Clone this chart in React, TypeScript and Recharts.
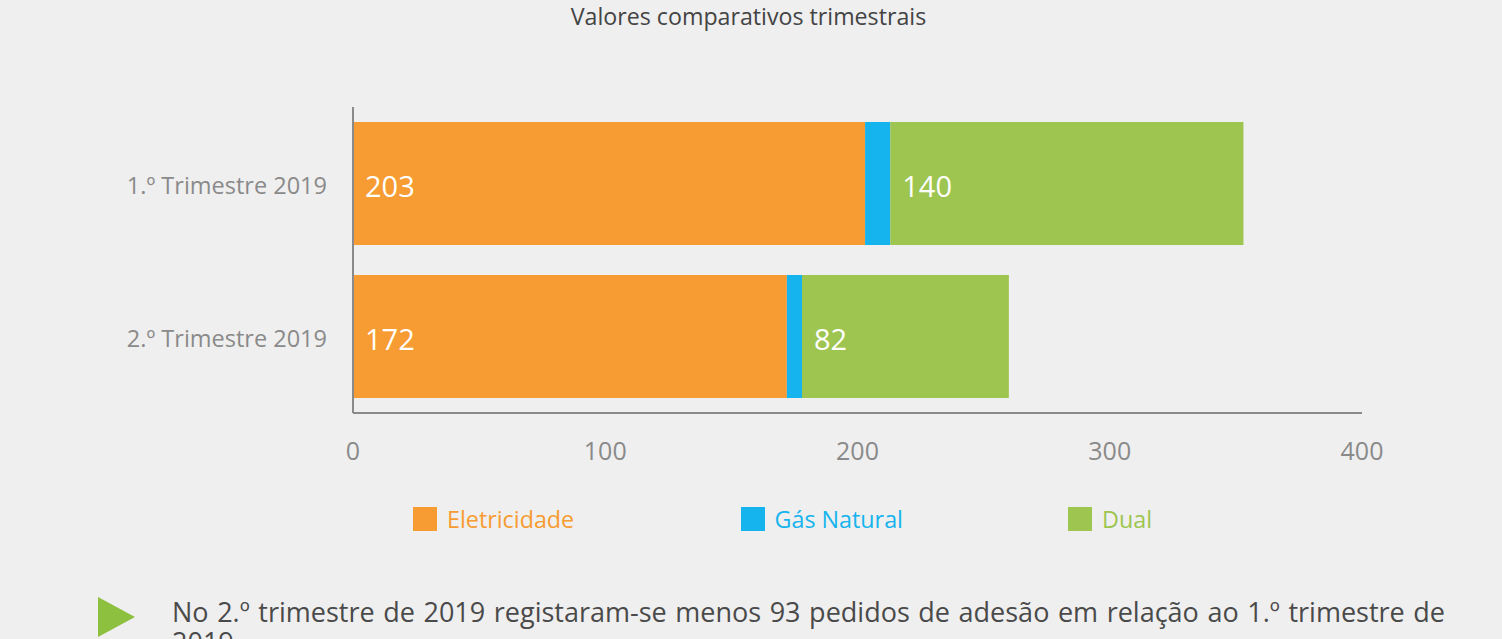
import React from "react";
import { BarChart, Bar, XAxis, YAxis, LabelList } from "recharts";

const categories = ["1.º Trimestre 2019", "2.º Trimestre 2019"];
const eletricidade = [203, 172];
const gasNatural = [10, 6];
const dual = [140, 82];
const xTicks = [0, 100, 200, 300, 400];

const seriesNames = ["Eletricidade", "Gás Natural", "Dual"];
const seriesKeys = ["eletricidade", "gas", "dual"];
const colors = ["#F79C32", "#16B4EE", "#9DC54F"];

const data = categories.map((c, i) => ({
  name: c,
  eletricidade: eletricidade[i],
  gas: gasNatural[i],
  dual: dual[i],
}));

const FONT = "'Open Sans', 'Noto Sans', sans-serif";

export default function App() {
  return (
    <div
      style={{
        position: "absolute",
        left: 0,
        top: 0,
        width: 1502,
        height: 639,
        background: "#EFEFEF",
        overflow: "hidden",
        fontFamily: FONT,
      }}
    >
      <div
        style={{
          position: "absolute",
          left: 0,
          top: 1,
          width: 1497,
          textAlign: "center",
          fontSize: 23.2,
          lineHeight: "30px",
          color: "#444",
        }}
      >
        Valores comparativos trimestrais
      </div>
      <div style={{ position: "absolute", left: 0, top: 0 }}>
        <BarChart
          width={1502}
          height={639}
          data={data}
          layout="vertical"
          margin={{ top: 107, right: 140, bottom: 166, left: 153 }}
          barSize={123}
        >
          <XAxis
            type="number"
            domain={[0, 400]}
            ticks={xTicks}
            tickLine={false}
            tickSize={0}
            tickMargin={29}
            height={60}
            axisLine={{ stroke: "#8a8a8a", strokeWidth: 2 }}
            tick={{ fill: "#8a8a8a", fontSize: 25, fontFamily: FONT }}
          />
          <YAxis
            type="category"
            dataKey="name"
            width={200}
            tickLine={false}
            tickSize={0}
            tickMargin={26}
            axisLine={{ stroke: "#8a8a8a", strokeWidth: 2 }}
            tick={{ fill: "#8a8a8a", fontSize: 23.5, fontFamily: FONT, dy: 2 }}
          />
          {seriesKeys.map((k, i) => (
            <Bar
              key={k}
              dataKey={k}
              name={seriesNames[i]}
              stackId="a"
              fill={colors[i]}
              isAnimationActive={false}
            >
              {k !== "gas" && (
                <LabelList
                  dataKey={k}
                  position="insideLeft"
                  offset={12}
                  fill="#ffffff"
                  fontSize={29}
                  fontFamily={FONT}
                  dy={3}
                />
              )}
            </Bar>
          ))}
        </BarChart>
      </div>
      <div style={{ position: "absolute", left: 0, top: 505, width: 1502, height: 30 }}>
        {seriesNames.map((n, i) => (
          <div
            key={n}
            style={{
              position: "absolute",
              left: 413 + i * 327.5,
              top: 0,
              height: 28,
              display: "flex",
              alignItems: "center",
              fontSize: 23.3,
              color: colors[i],
            }}
          >
            <span
              style={{
                display: "inline-block",
                width: 24,
                height: 24,
                background: colors[i],
                marginRight: 10,
              }}
            />
            {n}
          </div>
        ))}
      </div>
      <div
        style={{
          position: "absolute",
          left: 98,
          top: 597,
          width: 0,
          height: 0,
          borderTop: "20px solid transparent",
          borderBottom: "20px solid transparent",
          borderLeft: "37px solid #8DC03F",
        }}
      />
      <div
        style={{
          position: "absolute",
          left: 172,
          top: 597,
          width: 1273,
          fontSize: 27,
          lineHeight: "30px",
          color: "#4a4a4a",
          textAlign: "justify",
        }}
      >
        No 2.º trimestre de 2019 registaram-se menos 93 pedidos de adesão em relação ao 1.º trimestre de 2019
      </div>
    </div>
  );
}
